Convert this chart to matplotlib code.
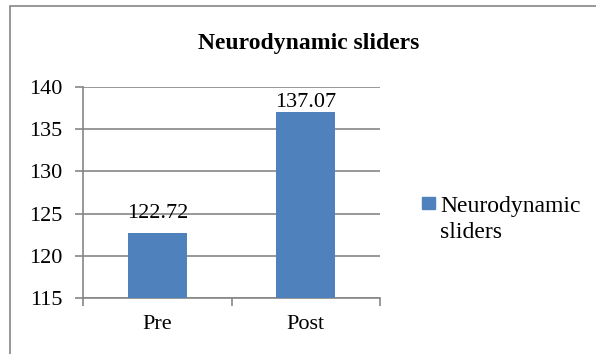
import matplotlib.pyplot as plt
from matplotlib.patches import Rectangle

categories = ["Pre", "Post"]
values = [122.72, 137.07]
series_name = "Neurodynamic sliders"
legend_lines = ["Neurodynamic", "sliders"]
yticks = [115, 120, 125, 130, 135, 140]

plt.rcParams["font.family"] = ["Liberation Serif", "DejaVu Serif"]
GRAY = "#868686"
BLUE = "#4f81bd"

fig = plt.figure(figsize=(5.96, 3.54), dpi=100)
W, H = 596, 354


def fx(px):
    return px / W


def fy(py):
    return 1 - py / H


# outer chart frame (runs off the right and bottom edges)
fig.patches.append(Rectangle((fx(10), -0.05), 1.1, fy(6) + 0.05,
                             transform=fig.transFigure, fill=False,
                             edgecolor=GRAY, linewidth=1.2))

ax = fig.add_axes([fx(83), fy(298), fx(380 - 83), (298 - 87) / H])
x = range(len(categories))
bars = ax.bar(x, values, width=0.4, color=BLUE, zorder=3, label=series_name)
ax.set_xlim(-0.5, 1.5)
ax.set_ylim(yticks[0], yticks[-1])
ax.set_yticks(yticks)
ax.yaxis.grid(True, color=GRAY, linewidth=1.2, zorder=0)
ax.set_xticks([-0.5, 0.5, 1.5])
ax.set_xticklabels([])
ax.set_xticks(list(x), minor=True)
ax.set_xticklabels(categories, minor=True)
ax.tick_params(axis="x", which="major", length=6, color=GRAY, width=1.2)
ax.tick_params(axis="x", which="minor", length=0, pad=12, labelsize=16)
ax.tick_params(axis="y", length=6, color=GRAY, width=1.2, labelsize=16, pad=9)
for side in ("top", "right"):
    ax.spines[side].set_visible(False)
for side in ("left", "bottom"):
    ax.spines[side].set_color(GRAY)
    ax.spines[side].set_linewidth(1.2)

# data labels sit above the bars but stay inside the plot area
for b, v in zip(bars, values):
    ly = min(v + 1.8, yticks[-1] - 2.4)
    ax.text(b.get_x() + b.get_width() / 2, ly, f"{v:.2f}",
            ha="center", va="baseline", fontsize=16, zorder=4)

fig.text(fx(309), fy(49), series_name, ha="center", va="baseline",
         fontsize=17, fontweight="bold")

# legend drawn by hand so the label wraps over two lines
fig.patches.append(Rectangle((fx(422), fy(209)), 13 / W, 12 / H,
                             transform=fig.transFigure, color=BLUE))
for i, line in enumerate(legend_lines):
    fig.text(fx(440), fy(212 + 26 * i), line, ha="left", va="baseline",
             fontsize=17)

fig.savefig("out.png", dpi=100)
